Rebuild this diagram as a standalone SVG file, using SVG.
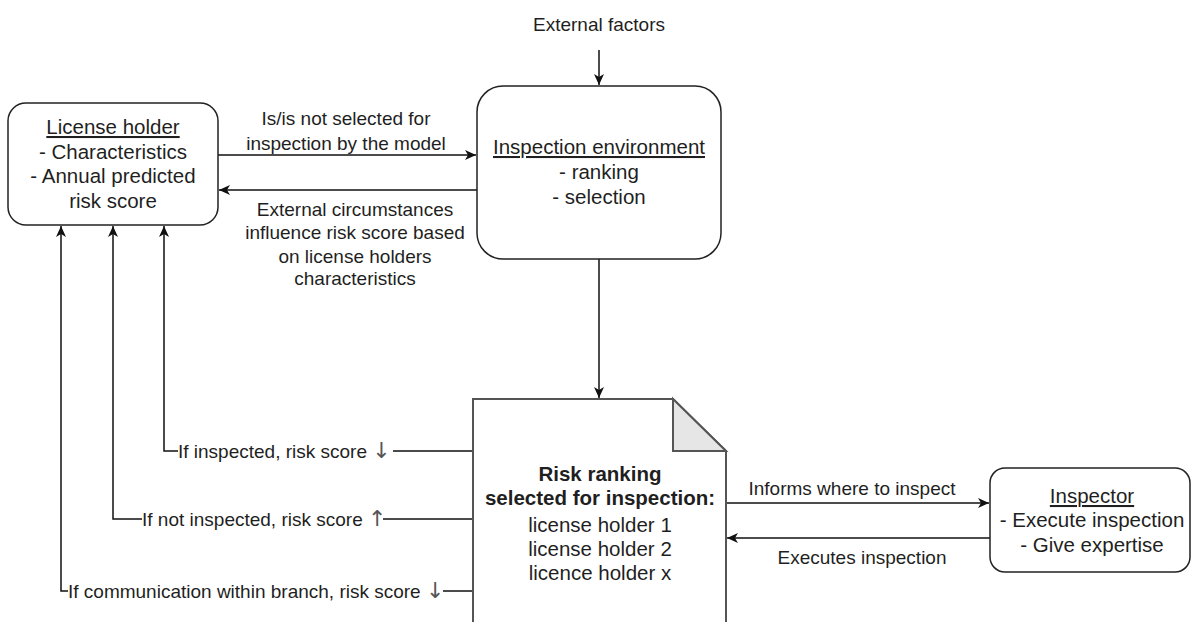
<svg xmlns="http://www.w3.org/2000/svg" width="1192" height="622" viewBox="0 0 1192 622">
<style>
.box{fill:#fff;stroke:#222;stroke-width:1.5}
.doc{fill:#fff;stroke:#555;stroke-width:2}
.fold{fill:#e6e6e6;stroke:#555;stroke-width:2;stroke-linejoin:miter}
.edge{fill:none;stroke:#111;stroke-width:1.5}
.t{font-family:"Liberation Sans",Arial,sans-serif;fill:#1f1f1f}
.n{font-size:20.5px;text-anchor:middle}
.l{font-size:19px}
.c{text-anchor:middle}
.u{text-decoration:underline}
.b{font-weight:bold}
.ar{font-family:"DejaVu Sans",sans-serif;font-size:22px;fill:#555}
</style>
<defs>
<marker id="arr" markerUnits="userSpaceOnUse" markerWidth="12" markerHeight="10" refX="11" refY="5" orient="auto">
<path d="M0,0 L11,5 L0,10 L3,5 Z" fill="#111"/>
</marker>
</defs>
<g id="connectors">
<path class="edge" d="M599,50 V85" marker-end="url(#arr)"/>
<path class="edge" d="M218,155 H476" marker-end="url(#arr)"/>
<path class="edge" d="M477,190 H219" marker-end="url(#arr)"/>
<path class="edge" d="M599,259 V398" marker-end="url(#arr)"/>
<path class="edge" d="M726,503 H989" marker-end="url(#arr)"/>
<path class="edge" d="M990,538 H727" marker-end="url(#arr)"/>
<path class="edge" d="M473,451 H393 M178,451 H164 V226" marker-end="url(#arr)"/>
<path class="edge" d="M473,519 H383 M142,519 H113 V226" marker-end="url(#arr)"/>
<path class="edge" d="M473,591 H443 M68,591 H61 V226" marker-end="url(#arr)"/>
</g>
<g id="labels">
<text class="t l c" x="599" y="30.5">External factors</text>
<text class="t l c" x="346" y="125">Is/is not selected for</text>
<text class="t l c" x="346" y="149.5">inspection by the model</text>
<text class="t l c" x="355" y="215.5">External circumstances</text>
<text class="t l c" x="355" y="238.5">influence risk score based</text>
<text class="t l c" x="355" y="262.5">on license holders</text>
<text class="t l c" x="355" y="284.5">characteristics</text>
<text class="t l c" x="852" y="494.5">Informs where to inspect</text>
<text class="t l c" x="862" y="563.5">Executes inspection</text>
<text class="t l" x="178" y="457.5">If inspected, risk score <tspan class="ar">↓</tspan></text>
<text class="t l" x="142" y="525.5">If not inspected, risk score <tspan class="ar">↑</tspan></text>
<text class="t l" x="68" y="597.5">If communication within branch, risk score <tspan class="ar">↓</tspan></text>
</g>
<g id="license-holder">
<rect class="box" x="8" y="103" width="210" height="122" rx="18" ry="18"/>
<text class="t n u" x="113" y="134">License holder</text>
<text class="t n" x="113" y="158.5">- Characteristics</text>
<text class="t n" x="113" y="183">- Annual predicted</text>
<text class="t n" x="113" y="207.5">risk score</text>
</g>
<g id="inspection-environment">
<rect class="box" x="477" y="86" width="244" height="173" rx="26" ry="26"/>
<text class="t n u" x="599" y="154">Inspection environment</text>
<text class="t n" x="599" y="179">- ranking</text>
<text class="t n" x="599" y="204">- selection</text>
</g>
<g id="risk-ranking">
<path class="doc" d="M473,630 V399 H673 L726,451 V630"/>
<path class="fold" d="M673,399 L726,451 H673 Z"/>
<text class="t n b" x="600" y="481">Risk ranking</text>
<text class="t n b" x="600" y="505">selected for inspection:</text>
<text class="t n" x="600" y="532">license holder 1</text>
<text class="t n" x="600" y="556">license holder 2</text>
<text class="t n" x="600" y="580">licence holder x</text>
</g>
<g id="inspector">
<rect class="box" x="990" y="468" width="200" height="104" rx="15" ry="15"/>
<text class="t n u" x="1092" y="503">Inspector</text>
<text class="t n" x="1092" y="527">- Execute inspection</text>
<text class="t n" x="1092" y="552">- Give expertise</text>
</g>
</svg>
